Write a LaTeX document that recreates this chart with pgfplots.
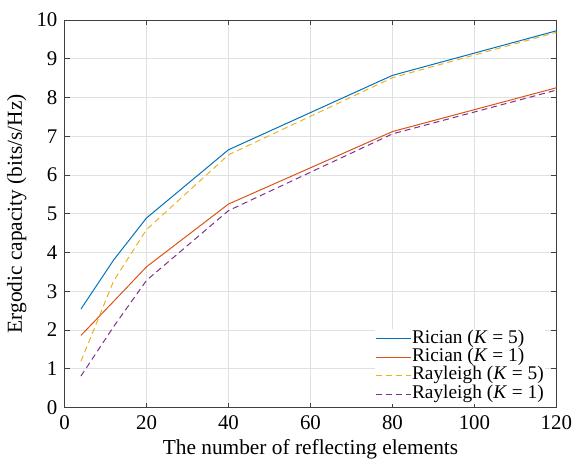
\documentclass[border=0pt]{standalone}
\usepackage{pgfplots}
\pgfplotsset{compat=1.18}
\usepackage{fontspec}
\setmainfont{Liberation Serif}
\definecolor{mblue}{rgb}{0,0.447,0.741}
\definecolor{mred}{rgb}{0.85,0.325,0.098}
\definecolor{myellow}{rgb}{0.929,0.694,0.125}
\definecolor{mpurple}{rgb}{0.494,0.184,0.556}
\begin{document}
\fontsize{21}{24}\selectfont
\begin{tikzpicture}
\begin{axis}[
  scale only axis,
  width=495pt, height=390pt,
  xmin=0, xmax=120, ymin=0, ymax=10,
  xtick={0,20,...,120}, ytick={0,1,...,10},
  grid=major,
  major grid style={black!12, line width=0.8pt},
  tick align=inside,
  axis line style={black!75, line width=0.8pt},
  tick style={black!75, line width=0.8pt},
  major tick length=5pt,
  xlabel={The number of reflecting elements},
  ylabel={Ergodic capacity (bits/s/Hz)},
  xlabel style={yshift=4pt},
  ylabel style={yshift=-4pt},
  xticklabel style={yshift=-1pt},
  /pgf/number format/assume math mode=true,
  ticklabel style={font=\fontsize{21}{24}\selectfont},
  every axis label/.append style={font=\fontsize{21.5}{24}\selectfont},
  legend style={at={(1,0)}, anchor=south east, draw=none, fill=white,
    font=\fontsize{19.5}{20}\selectfont, row sep=0pt, inner sep=1pt,
    xshift=-11pt, yshift=3pt,
    nodes={text height=13pt, text depth=4.5pt, inner sep=0.5pt}},
  legend cell align=left,
  legend image code/.code={\draw[#1] (0pt,0pt) -- (35pt,0pt);},
  every axis plot/.append style={line width=1pt},
]
\addplot[mblue] coordinates {(4,2.54) (12,3.81) (20,4.89) (40,6.65) (80,8.57) (120,9.72)};
\addlegendentry{Rician (\textit{K} = 5)}
\addplot[mred] coordinates {(4,1.86) (12,2.74) (20,3.63) (40,5.25) (80,7.12) (120,8.25)};
\addlegendentry{Rician (\textit{K} = 1)}
\addplot[myellow, dash pattern=on 6pt off 4pt] coordinates {(4,1.19) (12,3.27) (20,4.59) (40,6.52) (80,8.51) (120,9.68)};
\addlegendentry{Rayleigh (\textit{K} = 5)}
\addplot[mpurple, dash pattern=on 6pt off 4pt] coordinates {(4,0.81) (12,2.09) (20,3.28) (40,5.08) (80,7.06) (120,8.19)};
\addlegendentry{Rayleigh (\textit{K} = 1)}
\end{axis}
\path (current bounding box.north) ++(0,6pt) coordinate (padtop);
\end{tikzpicture}
\end{document}
